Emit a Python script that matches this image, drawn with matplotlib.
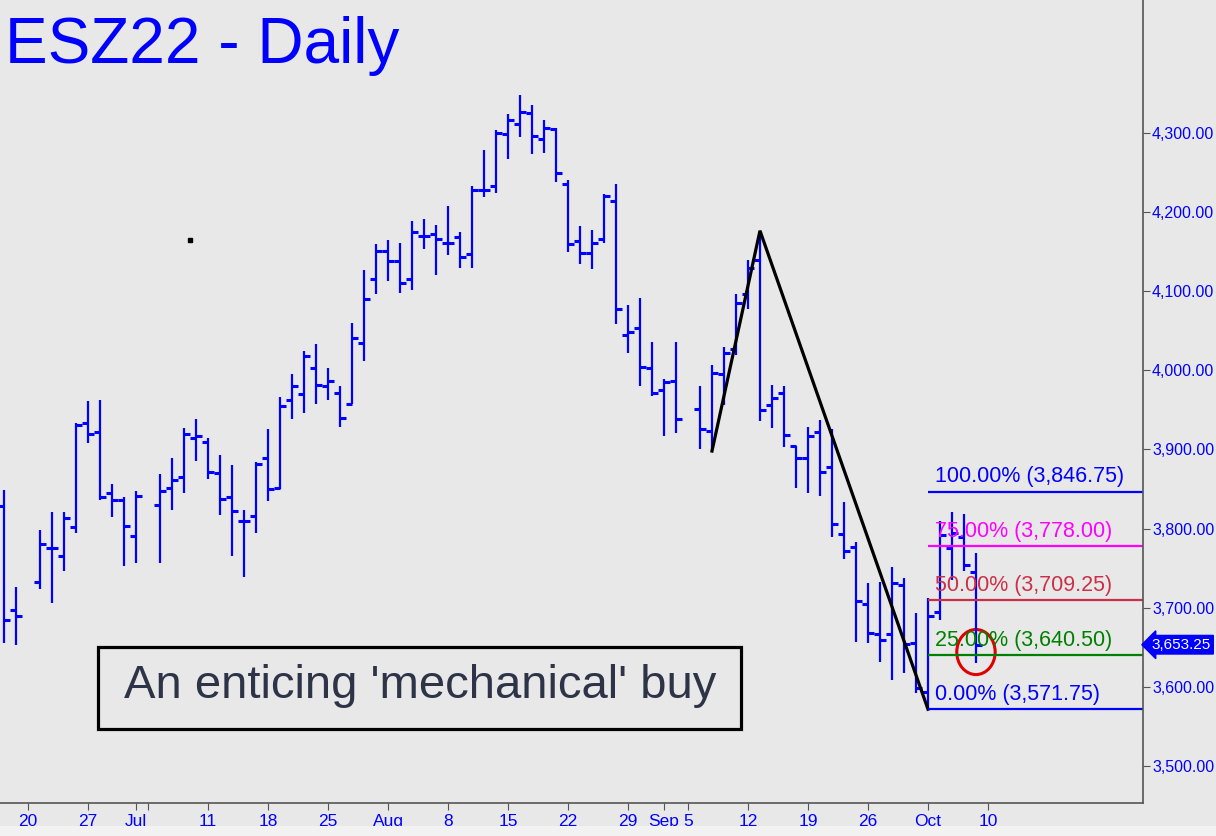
import numpy as np
import matplotlib
matplotlib.use("Agg")
import matplotlib.pyplot as plt
from matplotlib.patches import Ellipse, Rectangle

plt.rcParams['font.family'] = ['Liberation Sans', 'DejaVu Sans']

# --- daily bars, ESZ22 ---
dates = ['2022-06-16', '2022-06-17', '2022-06-21', '2022-06-22', '2022-06-23', '2022-06-24',
         '2022-06-27', '2022-06-28', '2022-06-29', '2022-06-30', '2022-07-01',
         '2022-07-05', '2022-07-06', '2022-07-07', '2022-07-08',
         '2022-07-11', '2022-07-12', '2022-07-13', '2022-07-14', '2022-07-15',
         '2022-07-18', '2022-07-19', '2022-07-20', '2022-07-21', '2022-07-22',
         '2022-07-25', '2022-07-26', '2022-07-27', '2022-07-28', '2022-07-29',
         '2022-08-01', '2022-08-02', '2022-08-03', '2022-08-04', '2022-08-05',
         '2022-08-08', '2022-08-09', '2022-08-10', '2022-08-11', '2022-08-12',
         '2022-08-15', '2022-08-16', '2022-08-17', '2022-08-18', '2022-08-19',
         '2022-08-22', '2022-08-23', '2022-08-24', '2022-08-25', '2022-08-26',
         '2022-08-29', '2022-08-30', '2022-08-31', '2022-09-01', '2022-09-02',
         '2022-09-06', '2022-09-07', '2022-09-08', '2022-09-09',
         '2022-09-12', '2022-09-13', '2022-09-14', '2022-09-15', '2022-09-16',
         '2022-09-19', '2022-09-20', '2022-09-21', '2022-09-22', '2022-09-23',
         '2022-09-26', '2022-09-27', '2022-09-28', '2022-09-29', '2022-09-30',
         '2022-10-03', '2022-10-04', '2022-10-05', '2022-10-06', '2022-10-07']

opens = [3828, 3697, 3732, 3776, 3765, 3802,
         3933, 3922, 3845, 3836, 3791,
         3829.5, 3851, 3865, 3914,
         3910, 3870, 3840, 3810, 3816,
         3889, 3851, 3963, 3970, 4003,
         3980, 3972, 3958, 4034, 4116,
         4151, 4138, 4116, 4170, 4172,
         4161, 4168, 4147, 4228, 4233,
         4299, 4312, 4325, 4293, 4305,
         4236, 4163, 4148, 4166, 4214,
         4045, 4053, 4002.5, 3975, 3987,
         3951, 3923, 3996, 4026.5,
         4096, 4139, 3956, 3972, 3904,
         3889, 3922.5, 3878, 3793, 3777,
         3704.5, 3667, 3667, 3729, 3655,
         3593, 3695, 3776, 3790, 3745]

highs = [3849, 3726, 3798, 3821, 3821, 3934,
         3961, 3963, 3856, 3840, 3847.5,
         3869, 3889, 3927, 3938,
         3915, 3893, 3880, 3823.5, 3884,
         3926, 3966, 3995, 4024, 4033,
         4003, 3980, 4060, 4127, 4160,
         4165, 4161, 4189, 4191, 4184,
         4208, 4174.5, 4233, 4279, 4304,
         4324, 4348, 4335, 4316, 4306,
         4240.5, 4182, 4177, 4222.5, 4236,
         4082.5, 4092, 4035.5, 3988.5, 4036,
         3980, 4007, 4029, 4096,
         4139.5, 4176.5, 3982, 3980, 3905,
         3928, 3937, 3926, 3833, 3782.5,
         3731, 3733, 3751, 3737, 3693,
         3712, 3809, 3821, 3819, 3769.5]

lows = [3655, 3653, 3724, 3706, 3747, 3794,
        3908, 3836, 3815, 3753, 3757,
        3757, 3823, 3845, 3885,
        3863, 3817, 3765, 3739, 3795,
        3835, 3850, 3938, 3946, 3958,
        3962, 3928, 3958, 4012, 4097,
        4113, 4098, 4101, 4154, 4120,
        4146, 4130, 4130, 4219.5, 4224,
        4267, 4295, 4273, 4275, 4238.5,
        4149, 4134, 4128, 4161, 4058,
        4022, 3980, 3968, 3917.5, 3920.5,
        3900, 3898, 3956, 4020,
        4078, 3936, 3927, 3903, 3851,
        3844.5, 3841, 3789, 3761, 3657,
        3655, 3632, 3608.5, 3618, 3592,
        3571.75, 3684, 3735, 3746, 3630]

closes = [3684.5, 3690, 3781, 3776, 3814, 3931,
          3920, 3840, 3836, 3803, 3841,
          3847.5, 3862, 3920, 3917,
          3871, 3838, 3822, 3810, 3882,
          3850, 3955, 3980, 4018, 3981,
          3987, 3940, 4040.5, 4090, 4151,
          4138, 4111, 4174.5, 4170, 4166,
          4161, 4143, 4228, 4228, 4300,
          4317, 4327, 4296, 4306, 4250,
          4160, 4148, 4161, 4220, 4077,
          4048, 4004, 3972, 3985, 3939,
          3925.5, 3997, 4021.5, 4085,
          4130, 3950, 3965, 3918, 3889,
          3917, 3872, 3806, 3772, 3708.5,
          3668.5, 3659, 3731, 3654, 3598,
          3690, 3792, 3794, 3754, 3653.25]

last_price = 3653.25

# swing used for the retracement
swing_dates = ['2022-09-07', '2022-09-13', '2022-10-03']
swing_prices = [3898, 4176.5, 3571.75]

fib_pcts = ['100.00%', '75.00%', '50.00%', '25.00%', '0.00%']
fib_levels = [3846.75, 3778.00, 3709.25, 3640.50, 3571.75]
fib_colors = ['#0000ff', '#ff00ff', '#cc3048', '#008000', '#0000ff']

tick_dates = ['2022-06-20', '2022-06-27', '2022-07-01', '2022-07-04', '2022-07-11', '2022-07-18',
              '2022-07-25', '2022-08-01', '2022-08-08', '2022-08-15', '2022-08-22',
              '2022-08-29', '2022-09-01', '2022-09-05', '2022-09-12', '2022-09-19',
              '2022-09-26', '2022-10-03', '2022-10-10']
tick_labels = ['20', '27', 'Jul', '', '11', '18', '25', 'Aug', '8', '15', '22',
               '29', 'Sep', '5', '12', '19', '26', 'Oct', '10']
month_ticks = ['2022-07-01', '2022-08-01', '2022-09-01']

price_ticks = [3500, 3600, 3700, 3800, 3900, 4000, 4100, 4200, 4300]

# stray dot on the chart
dot_date, dot_offset, dot_price = '2022-07-07', 0.5, 4165


def wd(d):
    # weekday slot (holidays keep their slot), Jun 20 = 0
    return np.busday_count('2022-06-20', d) if d >= '2022-06-20' else -np.busday_count(d, '2022-06-20')


x = np.array([wd(d) for d in dates], dtype=float)

bg = '#e8e8e8'
fig = plt.figure(figsize=(12.16, 8.36), dpi=100, facecolor=bg)
ax = fig.add_axes([0, 33 / 836, 1143 / 1216, 1 - 33 / 836], facecolor=bg)

# OHLC bars
blue = '#0000ff'
ax.vlines(x, lows, highs, color=blue, lw=1.6)
ax.hlines(opens, x - 0.5, x, color=blue, lw=2.2)
ax.hlines(closes, x, x + 0.5, color=blue, lw=2.2)

ax.plot([wd(dot_date) + dot_offset], [dot_price], 's', color='black', ms=3)

# swing lines
ax.plot([wd(d) for d in swing_dates], swing_prices, color='black', lw=2.3, solid_joinstyle='miter')

xmax = 92.92
x0 = wd(swing_dates[-1])
for pct, lev, col in zip(fib_pcts, fib_levels, fib_colors):
    ax.hlines(lev, x0, xmax, color=col, lw=1.6)
    ax.annotate(f'{pct} ({lev:,.2f})', (x0 + 0.55, lev), xytext=(0, 3), textcoords='offset points',
                color=col, fontsize=15.5, ha='left', va='bottom')

# circle around the last bar
ax.add_patch(Ellipse((wd(dates[-1]), 3644), 3.2, 57, fill=False, ec='#e00000', lw=2.2))

ax.set_xlim(-2.333, xmax)
ax.set_ylim(3453.2, 4468.1)

ax.set_xticks([wd(d) for d in tick_dates])
ax.set_xticklabels(tick_labels, color=blue, fontsize=12.5)
ax.tick_params(axis='x', which='major', length=5, color='#555555', pad=3)
# longer marks at month starts, without labels
ax.set_xticks([wd(d) for d in month_ticks], minor=True)
ax.tick_params(axis='x', which='minor', length=11, color='#555555', labelbottom=False)

ax.yaxis.tick_right()
ax.set_yticks(price_ticks)
ax.set_yticklabels([f'{p:,.2f}' for p in price_ticks], color=blue, fontsize=11.5)
ax.tick_params(axis='y', length=5, color='#555555', pad=1.5)

for s in ['top', 'left']:
    ax.spines[s].set_visible(False)
for s in ['right', 'bottom']:
    ax.spines[s].set_color('#555555')
    ax.spines[s].set_linewidth(1.2)

# last price flag
ax.text(1211 / 1143, last_price, f'{last_price:,.2f}', transform=ax.get_yaxis_transform(),
        color='white', fontsize=11, ha='right', va='center',
        bbox=dict(boxstyle='larrow,pad=0.15', fc=blue, ec=blue))

# title and comment box
fig.text(5 / 1216, 1 - 16 / 836, 'ESZ22 - Daily', color=blue, fontsize=46, ha='left', va='top')
fig.add_artist(Rectangle((98 / 1216, 1 - 729 / 836), 643 / 1216, 82 / 836,
                         transform=fig.transFigure, fill=False, ec='black', lw=2.3))
fig.text(420 / 1216, 1 - 686 / 836, "An enticing 'mechanical' buy", color='#2e3448',
         fontsize=34, ha='center', va='center')

# scroll strip at the bottom
fig.add_artist(Rectangle((0, 0), 1, 10 / 836, transform=fig.transFigure, fc='#f2f2f2', ec='none'))

fig.savefig('out.png', dpi=100, facecolor=bg)
